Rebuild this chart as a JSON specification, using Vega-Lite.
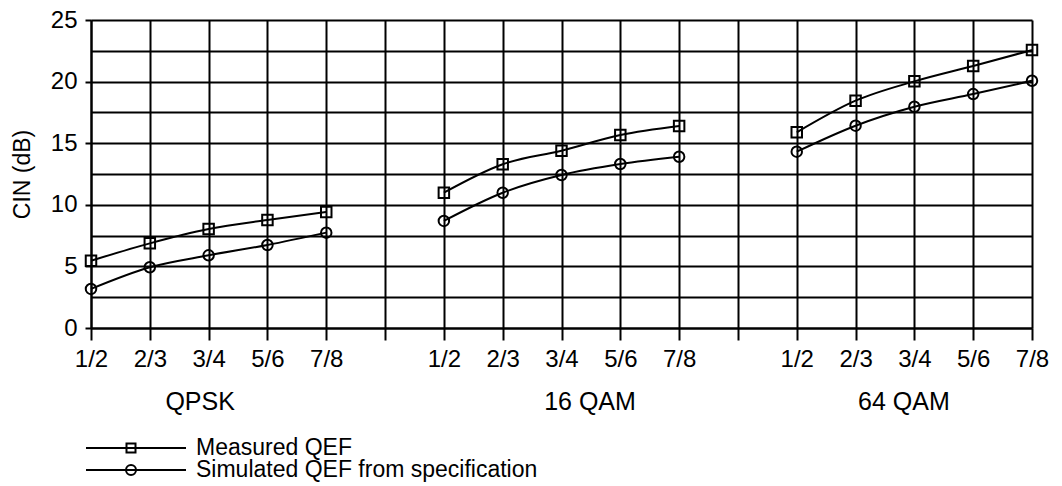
{
  "$schema": "https://vega.github.io/schema/vega-lite/v6.json",
  "width": 941,
  "height": 308,
  "autosize": {"type": "none"},
  "padding": {"left": 91, "top": 20, "right": 30, "bottom": 158},
  "background": "white",
  "config": {"font": "Liberation Sans", "view": {"stroke": null}},
  "data": {
    "values": [
      {"mod": "QPSK", "pos": "QPSK 1/2", "series": "Measured QEF", "cin": 5.46},
      {"mod": "QPSK", "pos": "QPSK 2/3", "series": "Measured QEF", "cin": 6.87},
      {"mod": "QPSK", "pos": "QPSK 3/4", "series": "Measured QEF", "cin": 8.03},
      {"mod": "QPSK", "pos": "QPSK 5/6", "series": "Measured QEF", "cin": 8.77},
      {"mod": "QPSK", "pos": "QPSK 7/8", "series": "Measured QEF", "cin": 9.42},
      {"mod": "QPSK", "pos": "QPSK 1/2", "series": "Simulated QEF from specification", "cin": 3.17},
      {"mod": "QPSK", "pos": "QPSK 2/3", "series": "Simulated QEF from specification", "cin": 4.93},
      {"mod": "QPSK", "pos": "QPSK 3/4", "series": "Simulated QEF from specification", "cin": 5.9},
      {"mod": "QPSK", "pos": "QPSK 5/6", "series": "Simulated QEF from specification", "cin": 6.74},
      {"mod": "QPSK", "pos": "QPSK 7/8", "series": "Simulated QEF from specification", "cin": 7.74},
      {"mod": "16 QAM", "pos": "16 QAM 1/2", "series": "Measured QEF", "cin": 10.98},
      {"mod": "16 QAM", "pos": "16 QAM 2/3", "series": "Measured QEF", "cin": 13.29},
      {"mod": "16 QAM", "pos": "16 QAM 3/4", "series": "Measured QEF", "cin": 14.39},
      {"mod": "16 QAM", "pos": "16 QAM 5/6", "series": "Measured QEF", "cin": 15.67},
      {"mod": "16 QAM", "pos": "16 QAM 7/8", "series": "Measured QEF", "cin": 16.4},
      {"mod": "16 QAM", "pos": "16 QAM 1/2", "series": "Simulated QEF from specification", "cin": 8.69},
      {"mod": "16 QAM", "pos": "16 QAM 2/3", "series": "Simulated QEF from specification", "cin": 10.98},
      {"mod": "16 QAM", "pos": "16 QAM 3/4", "series": "Simulated QEF from specification", "cin": 12.42},
      {"mod": "16 QAM", "pos": "16 QAM 5/6", "series": "Simulated QEF from specification", "cin": 13.31},
      {"mod": "16 QAM", "pos": "16 QAM 7/8", "series": "Simulated QEF from specification", "cin": 13.9},
      {"mod": "64 QAM", "pos": "64 QAM 1/2", "series": "Measured QEF", "cin": 15.88},
      {"mod": "64 QAM", "pos": "64 QAM 2/3", "series": "Measured QEF", "cin": 18.45},
      {"mod": "64 QAM", "pos": "64 QAM 3/4", "series": "Measured QEF", "cin": 20.02},
      {"mod": "64 QAM", "pos": "64 QAM 5/6", "series": "Measured QEF", "cin": 21.27},
      {"mod": "64 QAM", "pos": "64 QAM 7/8", "series": "Measured QEF", "cin": 22.56},
      {"mod": "64 QAM", "pos": "64 QAM 1/2", "series": "Simulated QEF from specification", "cin": 14.31},
      {"mod": "64 QAM", "pos": "64 QAM 2/3", "series": "Simulated QEF from specification", "cin": 16.42},
      {"mod": "64 QAM", "pos": "64 QAM 3/4", "series": "Simulated QEF from specification", "cin": 17.96},
      {"mod": "64 QAM", "pos": "64 QAM 5/6", "series": "Simulated QEF from specification", "cin": 18.99},
      {"mod": "64 QAM", "pos": "64 QAM 7/8", "series": "Simulated QEF from specification", "cin": 20.07}
    ]
  },
  "encoding": {
    "y": {
      "field": "cin",
      "type": "quantitative",
      "title": "CIN (dB)",
      "scale": {"domain": [0, 25], "nice": false, "zero": true},
      "axis": {
        "values": [0, 2.5, 5, 7.5, 10, 12.5, 15, 17.5, 20, 22.5, 25],
        "labelExpr": "datum.value % 5 === 0 ? datum.label : ''",
        "tickOpacity": {"condition": {"test": "datum.value % 5 === 0", "value": 1}, "value": 0},
        "tickSize": 6,
        "tickWidth": 2,
        "tickColor": "black",
        "labelPadding": 8,
        "labelFontSize": 24,
        "labelColor": "black",
        "titleFontSize": 23,
        "titleFontWeight": "normal",
        "titleColor": "black",
        "titlePadding": 16,
        "domainColor": "black",
        "domainWidth": 2,
        "grid": true,
        "gridColor": "black",
        "gridWidth": 2,
        "gridOpacity": 1
      }
    }
  },
  "layer": [
    {
      "mark": {"type": "line", "interpolate": "monotone", "color": "black", "strokeWidth": 2},
      "encoding": {
        "x": {
          "field": "pos",
          "type": "ordinal",
          "title": null,
          "scale": {
            "type": "point",
            "padding": 0,
            "domain": ["QPSK 1/2", "QPSK 2/3", "QPSK 3/4", "QPSK 5/6", "QPSK 7/8", "gap1",
                       "16 QAM 1/2", "16 QAM 2/3", "16 QAM 3/4", "16 QAM 5/6", "16 QAM 7/8", "gap2",
                       "64 QAM 1/2", "64 QAM 2/3", "64 QAM 3/4", "64 QAM 5/6", "64 QAM 7/8"]
          },
          "axis": {
            "orient": "bottom",
            "labelExpr": "indexof(datum.value,'gap') === 0 ? '' : substring(datum.value, length(datum.value)-3, length(datum.value))",
            "labelAngle": 0,
            "labelFontSize": 24,
            "labelColor": "black",
            "labelPadding": 7,
            "labelOverlap": false,
            "labelBound": false,
            "tickSize": 12,
            "tickWidth": 2,
            "tickColor": "black",
            "domainColor": "black",
            "domainWidth": 2,
            "grid": true,
            "gridColor": "black",
            "gridWidth": 2,
            "gridOpacity": 1
          }
        },
        "detail": [{"field": "mod", "type": "nominal"}, {"field": "series", "type": "nominal"}]
      }
    },
    {
      "mark": {"type": "point", "filled": false, "color": "black", "strokeWidth": 2, "size": 110, "opacity": 1},
      "encoding": {
        "x": {
          "field": "pos",
          "type": "ordinal",
          "title": null,
          "axis": {
            "orient": "bottom",
            "labelExpr": "indexof(datum.value,'3/4') > 0 ? substring(datum.value, 0, length(datum.value)-4) : ''",
            "labelAngle": 0,
            "labelFontSize": 25,
            "labelColor": "black",
            "labelPadding": 61,
            "labelOffset": {"condition": [{"test": "datum.value === 'QPSK 3/4'", "value": -9}, {"test": "datum.value === '16 QAM 3/4'", "value": 28}], "value": -11},
            "labelOverlap": false,
            "labelBound": false,
            "ticks": false,
            "tickSize": 0,
            "domain": false,
            "grid": false
          }
        },
        "shape": {
          "field": "series",
          "type": "nominal",
          "scale": {"domain": ["Measured QEF", "Simulated QEF from specification"], "range": ["square", "circle"]},
          "legend": null
        }
      }
    },
    {
      "transform": [{"filter": "datum.series === 'Measured QEF'"}],
      "mark": {"type": "point", "filled": false, "color": "black", "strokeWidth": 2, "size": 1, "opacity": 0},
      "encoding": {
        "shape": {
          "field": "series",
          "type": "nominal",
          "scale": {"domain": ["Measured QEF"], "range": ["M-1,0H1M-0.19,-0.09H-0.01V0.09H-0.19Z"]},
          "legend": {
            "title": null,
            "orient": "none",
            "legendX": -6,
            "legendY": 377,
            "padding": 0,
            "labelFontSize": 23,
            "labelColor": "black",
            "labelOffset": 9,
            "labelLimit": 0,
            "symbolSize": 10000,
            "symbolStrokeColor": "black",
            "symbolStrokeWidth": 2,
            "symbolFillColor": "transparent",
            "symbolOpacity": 1
          }
        }
      }
    },
    {
      "transform": [{"filter": "datum.series === 'Simulated QEF from specification'"}],
      "mark": {"type": "point", "filled": false, "color": "black", "strokeWidth": 2, "size": 1, "opacity": 0},
      "encoding": {
        "shape": {
          "field": "series",
          "type": "nominal",
          "scale": {"domain": ["Simulated QEF from specification"], "range": ["M-1,0H1M0,0A0.1,0.1 0 1 1 -0.2,0A0.1,0.1 0 1 1 0,0Z"]},
          "legend": {
            "title": null,
            "orient": "none",
            "legendX": -6,
            "legendY": 399,
            "padding": 0,
            "labelFontSize": 23,
            "labelColor": "black",
            "labelOffset": 9,
            "labelLimit": 0,
            "symbolSize": 10000,
            "symbolStrokeColor": "black",
            "symbolStrokeWidth": 2,
            "symbolFillColor": "transparent",
            "symbolOpacity": 1
          }
        }
      }
    }
  ],
  "resolve": {"scale": {"shape": "independent"}, "axis": {"x": "independent"}}
}
